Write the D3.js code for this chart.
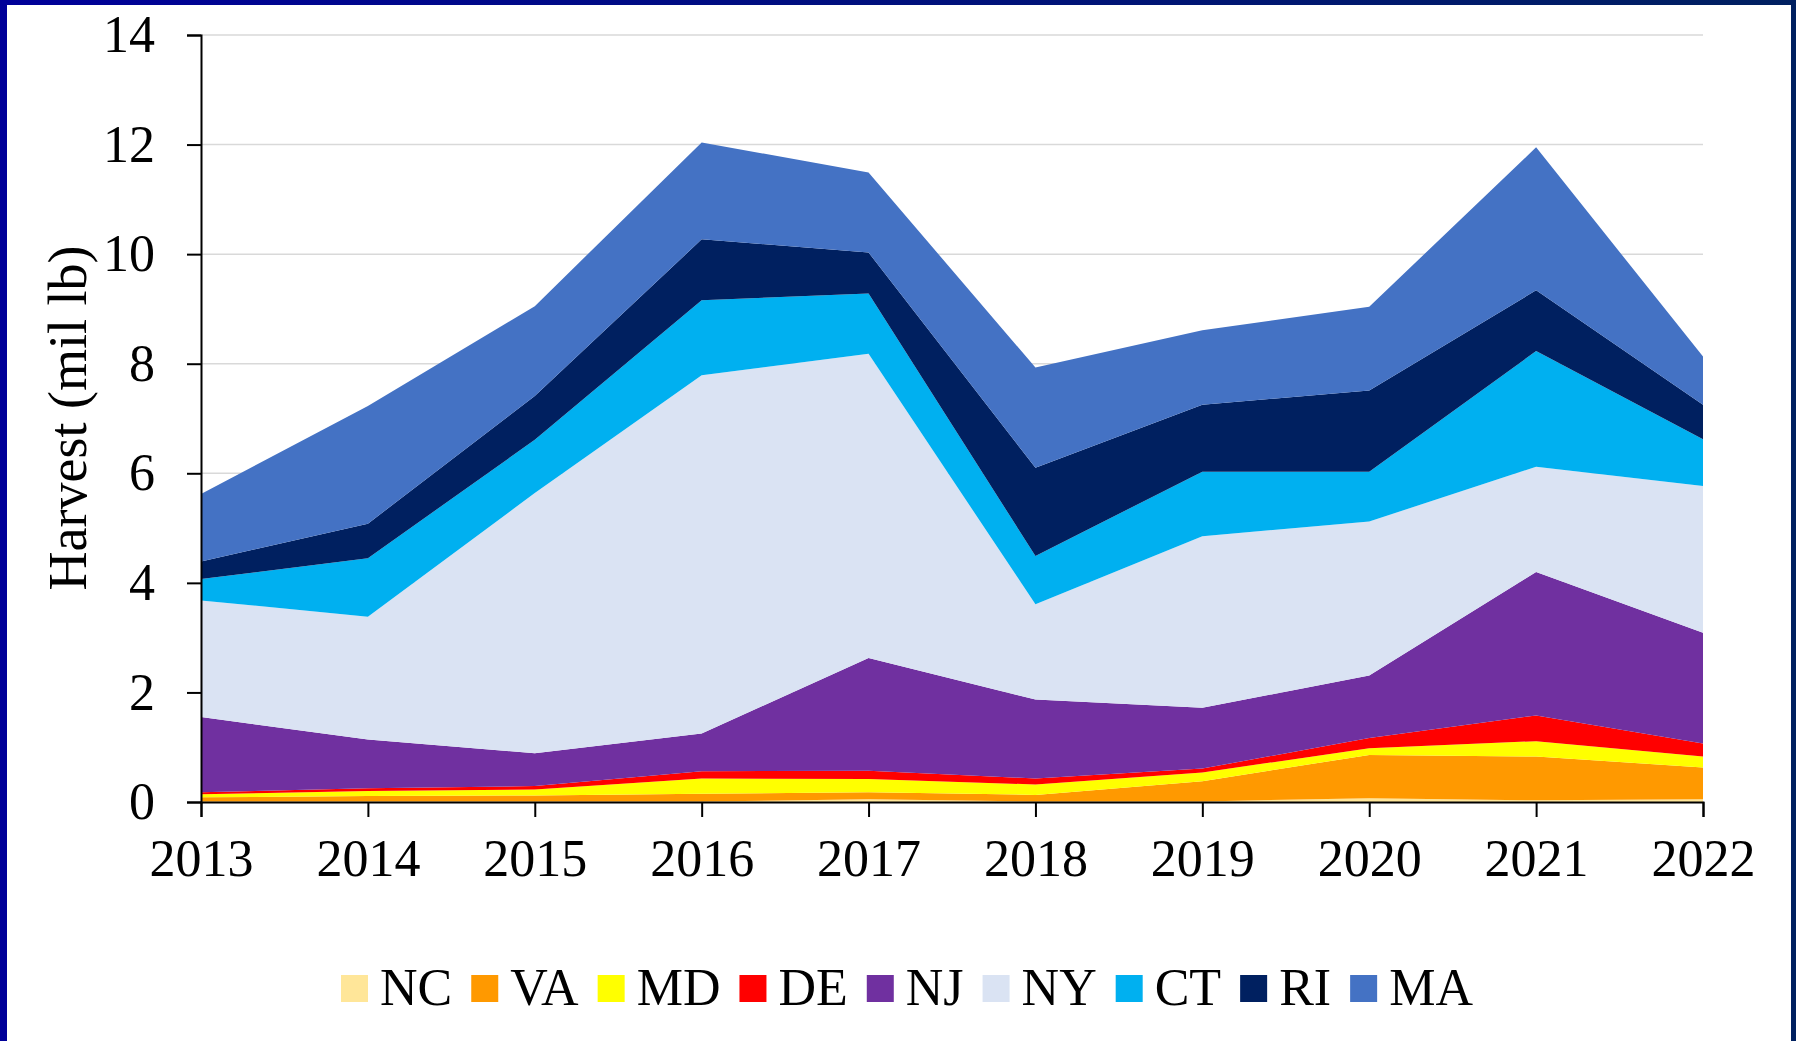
<!DOCTYPE html>
<html>
<head>
<meta charset="utf-8">
<script src="https://cdn.jsdelivr.net/npm/d3@7"></script>
<style>
  body { margin: 0; background: #fff; }
  text { font-family: "Liberation Serif", "Times New Roman", serif; fill: #000; }
</style>
</head>
<body>
<script>
// data (mil lb)
var years = [2013, 2014, 2015, 2016, 2017, 2018, 2019, 2020, 2021, 2022];
var states = ['NC', 'VA', 'MD', 'DE', 'NJ', 'NY', 'CT', 'RI', 'MA'];
var NC = [0.01, 0.01, 0.01, 0.01, 0.05, 0.01, 0.01, 0.07, 0.03, 0.05];
var VA = [0.075, 0.10, 0.11, 0.14, 0.13, 0.12, 0.37, 0.79, 0.80, 0.58];
var MD = [0.055, 0.09, 0.11, 0.28, 0.24, 0.19, 0.16, 0.12, 0.28, 0.20];
var DE = [0.04, 0.05, 0.06, 0.13, 0.15, 0.11, 0.07, 0.19, 0.47, 0.24];
var NJ = [1.37, 0.89, 0.60, 0.69, 2.06, 1.44, 1.11, 1.14, 2.62, 2.02];
var NY = [2.13, 2.24, 4.75, 6.54, 5.55, 1.74, 3.13, 2.81, 1.92, 2.68];
var CT = [0.39, 1.07, 0.97, 1.37, 1.10, 0.88, 1.18, 0.91, 2.11, 0.85];
var RI = [0.32, 0.63, 0.80, 1.11, 0.75, 1.61, 1.22, 1.48, 1.11, 0.63];
var MA = [1.23, 2.15, 1.64, 1.77, 1.46, 1.83, 1.36, 1.53, 2.61, 0.88];
var yTicks = [0, 2, 4, 6, 8, 10, 12, 14];
var colors = ['#FFE699', '#FF9900', '#FFFF00', '#FF0000', '#7030A0', '#DAE3F3', '#00B0F0', '#002060', '#4472C4'];

var series = {NC: NC, VA: VA, MD: MD, DE: DE, NJ: NJ, NY: NY, CT: CT, RI: RI, MA: MA};

// build table rows for d3.stack
var table = years.map(function(yr, i) {
    var row = {year: yr};
    states.forEach(function(s) { row[s] = series[s][i]; });
    return row;
});

// dimensions
var W = 1796, H = 1041,
    margin = {top: 35, right: 93, bottom: 239, left: 201},
    width = W - margin.left - margin.right,
    height = H - margin.top - margin.bottom;

var svg = d3.select('body').append('svg')
    .attr('width', W)
    .attr('height', H);

// frame
var defs = svg.append('defs');
var grad = defs.append('linearGradient').attr('id', 'frame').attr('x1', 0).attr('x2', 1).attr('y1', 0).attr('y2', 0);
grad.append('stop').attr('offset', 0).attr('stop-color', '#000099');
grad.append('stop').attr('offset', 1).attr('stop-color', '#002060');
svg.append('rect').attr('x', 0).attr('y', 0).attr('width', W).attr('height', 5).attr('fill', 'url(#frame)');
svg.append('rect').attr('x', 0).attr('y', 0).attr('width', 7).attr('height', H).attr('fill', '#000099');
svg.append('rect').attr('x', W - 5).attr('y', 0).attr('width', 5).attr('height', H).attr('fill', '#002060');

var g = svg.append('g')
    .attr('transform', 'translate(' + margin.left + ',' + margin.top + ')');

// scales
var x = d3.scaleLinear().domain([2013, 2022]).range([0, width]);
var y = d3.scaleLinear().domain([0, 14]).range([height, 0]);

// gridlines
g.selectAll('.grid').data(yTicks.slice(1))
  .enter().append('line')
    .attr('x1', 0).attr('x2', width)
    .attr('y1', function(d) { return y(d); })
    .attr('y2', function(d) { return y(d); })
    .attr('stroke', '#d9d9d9')
    .attr('stroke-width', 1.5);

// stacked areas
var stack = d3.stack().keys(states);
var layers = stack(table);

var area = d3.area()
    .x(function(d) { return x(d.data.year); })
    .y0(function(d) { return y(d[0]); })
    .y1(function(d) { return y(d[1]); });

g.selectAll('.layer').data(layers)
  .enter().append('path')
    .attr('d', area)
    .attr('fill', function(d, i) { return colors[i]; });

// x-axis
var xAxis = d3.axisBottom(x).tickValues(years).tickFormat(d3.format('d')).tickSize(15).tickPadding(22);
var gx = g.append('g')
    .attr('transform', 'translate(0,' + height + ')')
    .call(xAxis);
gx.select('.domain').attr('stroke', '#000').attr('stroke-width', 2);
gx.selectAll('.tick line').attr('stroke', '#000').attr('stroke-width', 2);
gx.selectAll('text')
    .style('font-size', '52px')
    .style('font-family', '"Liberation Serif", serif')
    .attr('fill', '#000');

// y-axis
var yAxis = d3.axisLeft(y).tickValues(yTicks).tickSize(14).tickPadding(32);
var gy = g.append('g').call(yAxis);
gy.select('.domain').attr('stroke', '#000').attr('stroke-width', 2);
gy.selectAll('.tick line').attr('stroke', '#000').attr('stroke-width', 2);
gy.selectAll('text')
    .style('font-size', '52px')
    .style('font-family', '"Liberation Serif", serif')
    .attr('fill', '#000');

// axis title
svg.append('text')
    .attr('text-anchor', 'middle')
    .attr('transform', 'translate(86,418)rotate(-90)')
    .style('font-size', '54px')
    .text('Harvest (mil lb)');

// legend
var legend = svg.append('g').attr('transform', 'translate(341,975)');
var lx = 0;
states.forEach(function(s, i) {
    legend.append('rect')
        .attr('x', lx).attr('y', 0)
        .attr('width', 27).attr('height', 27)
        .attr('fill', colors[i]);
    var t = legend.append('text')
        .attr('x', lx + 39)
        .attr('y', 30)
        .style('font-size', '52px')
        .text(s);
    lx += 39 + t.node().getComputedTextLength() + 19;
});
</script>
</body>
</html>
